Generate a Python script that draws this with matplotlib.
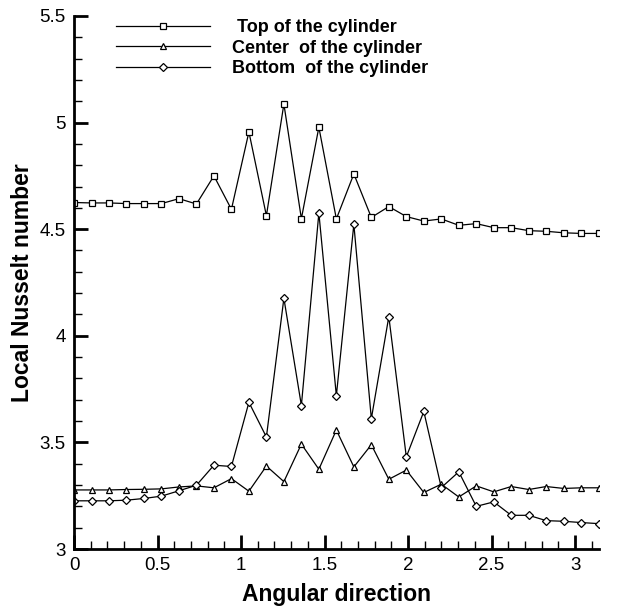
import numpy as np
import matplotlib
matplotlib.use("Agg")
import matplotlib.pyplot as plt
from matplotlib.ticker import MultipleLocator

plt.rcParams["font.family"] = ["Liberation Sans", "DejaVu Sans"]

# angular positions: 31 stations from 0 to pi
angle = np.linspace(0, np.pi, 31)

nu_top = [4.625, 4.623, 4.623, 4.620, 4.620, 4.620, 4.643, 4.618, 4.750, 4.593,
          4.956, 4.563, 5.087, 4.549, 4.978, 4.548, 4.759, 4.555, 4.606, 4.559,
          4.538, 4.548, 4.518, 4.526, 4.507, 4.507, 4.493, 4.490, 4.483, 4.480,
          4.480]
nu_center = [3.277, 3.277, 3.277, 3.279, 3.280, 3.282, 3.291, 3.296, 3.287, 3.330,
             3.271, 3.389, 3.316, 3.492, 3.374, 3.558, 3.385, 3.489, 3.327, 3.370,
             3.265, 3.304, 3.244, 3.296, 3.268, 3.293, 3.279, 3.293, 3.284, 3.287,
             3.287]
nu_bottom = [3.226, 3.226, 3.226, 3.229, 3.237, 3.248, 3.273, 3.299, 3.393, 3.387,
             3.688, 3.525, 4.176, 3.673, 4.576, 3.719, 4.523, 3.611, 4.090, 3.432,
             3.645, 3.288, 3.362, 3.200, 3.221, 3.158, 3.158, 3.133, 3.130, 3.124,
             3.119]

labels = [" Top of the cylinder", "Center  of the cylinder", "Bottom  of the cylinder"]

fig = plt.figure(figsize=(6.23, 6.13), dpi=100)
ax = fig.add_axes([0.1188, 0.1044, 0.961 - 0.1188, 0.974 - 0.1044])

style = dict(color="black", lw=0.9, markerfacecolor="white", markeredgecolor="black",
             markeredgewidth=0.9)
ax.plot(angle, nu_top, marker="s", markersize=4.5, label=labels[0], **style)
ax.plot(angle, nu_center, marker="^", markersize=5, label=labels[1], **style)
ax.plot(angle, nu_bottom, marker="D", markersize=4.3, label=labels[2], **style)

ax.set_xlim(0, np.pi)
ax.set_ylim(3, 5.5)
ax.xaxis.set_minor_locator(MultipleLocator(0.1))
ax.yaxis.set_minor_locator(MultipleLocator(0.1))
ax.set_xticks([0, 0.5, 1, 1.5, 2, 2.5, 3])
ax.set_xticklabels(["0", "0.5", "1", "1.5", "2", "2.5", "3"])
ax.set_yticks([3, 3.5, 4, 4.5, 5, 5.5])
ax.set_yticklabels(["3", "3.5", "4", "4.5", "5", "5.5"])

for side in ["top", "right"]:
    ax.spines[side].set_visible(False)
for side in ["left", "bottom"]:
    ax.spines[side].set_linewidth(2)
ax.tick_params(which="major", direction="in", length=10, width=2, labelsize=13.5, pad=6)
ax.tick_params(which="minor", direction="in", length=6, width=1)

ax.set_xlabel("Angular direction", fontsize=16.5, fontweight="bold", labelpad=6)
ax.set_ylabel("Local Nusselt number", fontsize=16.5, fontweight="bold", labelpad=4)

ax.legend(loc="upper left", bbox_to_anchor=(0.049, 1.024), frameon=False, numpoints=1,
          handlelength=5.2, handletextpad=1.2, labelspacing=0.18,
          prop={"size": 13, "weight": "bold"})

fig.savefig("out.png", dpi=100)
